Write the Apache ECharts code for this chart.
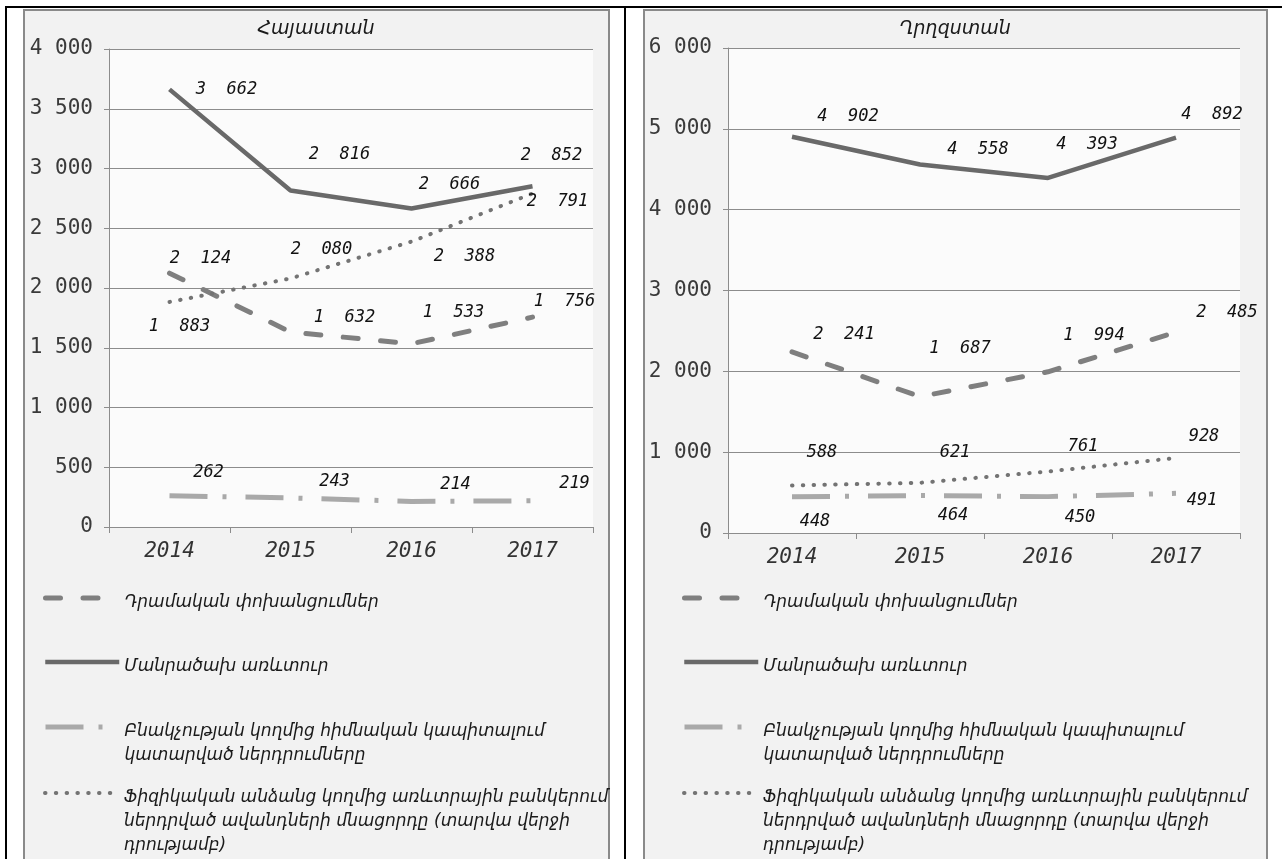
<!DOCTYPE html>
<html><head><meta charset="utf-8">
<script src="https://cdn.jsdelivr.net/npm/echarts@6/dist/echarts.min.js"></script>
<style>
html,body{margin:0;padding:0;background:#fff;width:1282px;height:859px;overflow:hidden;}
.bk{position:absolute;background:#000;}
.fr{position:absolute;box-sizing:border-box;border:2px solid #8a8a8a;background:#f2f2f2;}
#chart{position:absolute;left:0;top:0;width:1282px;height:859px;}
</style></head><body>
<div class="bk" style="left:5px;top:6px;width:1277px;height:2px"></div>
<div class="bk" style="left:5px;top:6px;width:2px;height:853px"></div>
<div class="bk" style="left:624px;top:6px;width:2px;height:853px"></div>
<div class="fr" style="left:23px;top:9px;width:587px;height:860px"></div>
<div class="fr" style="left:643px;top:9px;width:625px;height:860px"></div>
<div id="chart"></div>
<script>
// ---- data ----
const years = ['2014', '2015', '2016', '2017'];
const titles = ['Հայաստան', 'Ղրղզստան'];
const seriesNames = [
  'Դրամական փոխանցումներ',
  'Մանրածախ առևտուր',
  'Բնակչության կողմից հիմնական կապիտալում կատարված ներդրումները',
  'Ֆիզիկական անձանց կողմից առևտրային բանկերում ներդրված ավանդների մնացորդը (տարվա վերջի դրությամբ)'
];
const legendLines = [
  ['Դրամական փոխանցումներ'],
  ['Մանրածախ առևտուր'],
  ['Բնակչության կողմից հիմնական կապիտալում', 'կատարված ներդրումները'],
  ['Ֆիզիկական անձանց կողմից առևտրային բանկերում', 'ներդրված ավանդների մնացորդը (տարվա վերջի', 'դրությամբ)']
];
// Armenia
const armTransfers = [2124, 1632, 1533, 1756];
const armRetail = [3662, 2816, 2666, 2852];
const armInvest = [262, 243, 214, 219];
const armDeposits = [1883, 2080, 2388, 2791];
// Kyrgyzstan
const kgzTransfers = [2241, 1687, 1994, 2485];
const kgzRetail = [4902, 4558, 4393, 4892];
const kgzInvest = [448, 464, 450, 491];
const kgzDeposits = [588, 621, 761, 928];
// axis scales
const armAxisMax = 4000, armAxisStep = 500;
const kgzAxisMax = 6000, kgzAxisStep = 1000;

// ---- layout (label offsets relative to points, px) ----
const armOffsets = [
  [[31, -15], [54, -14], [42, -31], [32, -16]],
  [[57, 0], [49, -36], [38, -24], [19, -31]],
  [[39, -23], [44, -16], [44, -17], [42, -17]],
  [[10, 25], [31, -29], [53, 15], [25, 8]]
];
const kgzOffsets = [
  [[52, -17], [40, -48], [46, -36], [51, -20]],
  [[56, -20], [58, -15], [39, -33], [36, -23]],
  [[23, 25], [33, 20], [32, 21], [26, 7]],
  [[30, -33], [35, -30], [35, -25], [28, -21]]
];
const lineStyles = [
  {color: '#7f7f7f', width: 5, type: [15, 22.5], cap: 'round'},
  {color: '#696969', width: 4.5, type: 'solid', cap: 'butt'},
  {color: '#a9a9a9', width: 5, type: [38, 15, 4, 19], cap: 'butt'},
  {color: '#737373', width: 4, type: [0.5, 10.3], cap: 'round'}
];

const monoFont = '"DejaVu Sans Mono", monospace';
const textFont = '"DejaVu Sans", sans-serif';
const fmtLabel = v => String(v).replace(/\B(?=(\d{3})+(?!\d))/g, '  ');
const fmtAxis = v => String(v).replace(/\B(?=(\d{3})+(?!\d))/g, ' ');

const chart = echarts.init(document.getElementById('chart'));

function mkSeries(values, idx, gridIdx, offsets) {
  const ls = lineStyles[idx];
  return {
    type: 'line',
    name: seriesNames[idx],
    xAxisIndex: gridIdx,
    yAxisIndex: gridIdx,
    data: values.map((v, i) => ({value: v, label: {offset: offsets[idx][i]}})),
    symbol: 'circle',
    symbolSize: 1,
    showSymbol: true,
    itemStyle: {color: 'rgba(0,0,0,0)', borderWidth: 0},
    lineStyle: {color: ls.color, width: ls.width, type: ls.type, cap: ls.cap},
    label: {
      show: true, position: 'inside', formatter: p => fmtLabel(p.value),
      fontFamily: monoFont, fontStyle: 'italic', fontSize: 17, color: '#111'
    },
    emphasis: {disabled: true},
    z: 3
  };
}

const series = [];
[armTransfers, armRetail, armInvest, armDeposits].forEach((d, i) => series.push(mkSeries(d, i, 0, armOffsets)));
[kgzTransfers, kgzRetail, kgzInvest, kgzDeposits].forEach((d, i) => series.push(mkSeries(d, i, 1, kgzOffsets)));

function mkX(gridIdx) {
  return {
    type: 'category', gridIndex: gridIdx, data: years, boundaryGap: true,
    axisLine: {show: true, lineStyle: {color: '#8c8c8c', width: 1}},
    axisTick: {show: true, length: 6, lineStyle: {color: '#8c8c8c'}},
    axisLabel: {margin: 14, fontFamily: monoFont, fontStyle: 'italic', fontSize: 21, color: '#333'},
    splitLine: {show: false}
  };
}
function mkY(gridIdx, max, step) {
  return {
    type: 'value', gridIndex: gridIdx, min: 0, max: max, interval: step,
    axisLine: {show: true, lineStyle: {color: '#8c8c8c', width: 1}},
    axisTick: {show: true, length: 5, lineStyle: {color: '#8c8c8c'}},
    axisLabel: {margin: 16, fontFamily: monoFont, fontSize: 21, color: '#3a3a3a', formatter: fmtAxis},
    splitLine: {show: true, lineStyle: {color: '#8c8c8c', width: 1}}
  };
}

// legend: icon centred on the first text line (blank lines above balance the block),
// plus a small spacer line so the text sits slightly below the icon as in the original
const legendIconY = [598, 662, 727, 793];
const legendLineH = 24;
const legendSpacer = 10;
const legends = [];
[43, 682].forEach(lx => {
  seriesNames.forEach((n, i) => {
    const nLines = legendLines[i].length;
    const blockH = (2 * nLines - 1) * legendLineH + legendSpacer;
    legends.push({
      left: lx, top: legendIconY[i] - blockH / 2, orient: 'vertical', padding: 0,
      itemWidth: 74, itemHeight: 14, selectedMode: false,
      data: [n],
      formatter: () => ['{s| }'].concat(new Array(nLines - 1).fill('')).concat(legendLines[i]).join('\n'),
      lineStyle: {width: 'inherit'},
      itemStyle: {color: 'rgba(0,0,0,0)', borderWidth: 0},
      textStyle: {
        fontFamily: textFont, fontStyle: 'italic', fontSize: 17, lineHeight: legendLineH, color: '#1a1a1a',
        rich: {s: {fontSize: 2, lineHeight: legendSpacer}}
      }
    });
  });
});

const titleStyle = {fontFamily: textFont, fontStyle: 'italic', fontWeight: 'normal', fontSize: 19, color: '#1a1a1a'};
chart.setOption({
  animation: false,
  title: [
    {text: titles[0], left: 316, top: 20, textAlign: 'center', padding: 0, textStyle: titleStyle},
    {text: titles[1], left: 955, top: 20, textAlign: 'center', padding: 0, textStyle: titleStyle}
  ],
  grid: [
    {left: 109, top: 49, width: 484, height: 478, show: true, backgroundColor: '#fbfbfb', borderWidth: 0},
    {left: 728, top: 48, width: 512, height: 485, show: true, backgroundColor: '#fbfbfb', borderWidth: 0}
  ],
  xAxis: [mkX(0), mkX(1)],
  yAxis: [mkY(0, armAxisMax, armAxisStep), mkY(1, kgzAxisMax, kgzAxisStep)],
  legend: legends,
  series: series
});
</script>
</body></html>
